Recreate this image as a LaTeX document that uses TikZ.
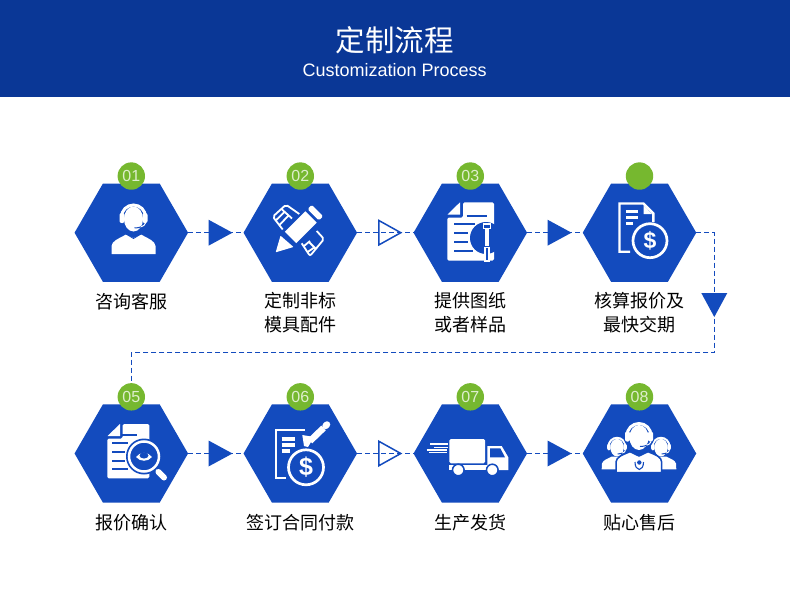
\documentclass[tikz,border=0pt]{standalone}
\usepackage{xcolor}
\usepackage{fontspec}
\usepackage{tikz}
\usetikzlibrary{arrows.meta,shapes.geometric,positioning,calc}
\setmainfont{Liberation Sans}
\newfontfamily\cjk{Noto Sans CJK SC}
\definecolor{headBlue}{RGB}{10,  55, 150}
\definecolor{hexBlue} {RGB}{19,  75, 190}
\definecolor{dotGreen}{RGB}{118,184,  47}
\definecolor{numPale} {RGB}{222,238, 205}
\tikzset{
  hexbox/.style={regular polygon,regular polygon sides=6,fill=hexBlue,
        minimum size=113.5pt,inner sep=0pt,outer sep=0pt},
  numdot/.style={circle,fill=dotGreen,text=numPale,minimum size=27.4pt,inner sep=0pt,
        font=\fontsize{16}{16}\selectfont},
  steptext/.style={align=center,inner sep=0pt,execute at begin node=\strut,
        font=\cjk\fontsize{18}{24}\selectfont},
  dashline/.style={hexBlue,line width=0.9pt,dash pattern=on 5pt off 3pt},
  tribox/.style={isosceles triangle,isosceles triangle stretches,anchor=lower side,
        minimum width=26pt,minimum height=24pt,inner sep=0pt,outer sep=0pt},
  trisolid/.style={tribox,fill=hexBlue},
  triopen/.style={tribox,draw=hexBlue,line width=1.5pt,minimum width=24.5pt,minimum height=22pt},
  dollar/.style={text=white,inner sep=0pt,font=\bfseries\fontsize{23}{23}\selectfont},
  wf/.style={fill=white},
  wl/.style={draw=white,line width=#1},
  bl/.style={draw=hexBlue,line width=#1},
  pics/headset/.style={code={
    \draw[wl=#1] (-12,1) arc[start angle=180,end angle=360,radius=12];
    \fill[wf,rounded corners=2pt] (-14,-3) rectangle (-9,7);
    \fill[wf,rounded corners=2pt] (9,-3) rectangle (14,7);
    \fill[wf] (0,3) ellipse [x radius=9.5,y radius=12.5];
    \draw[wl=1pt] (12,7) .. controls (11.5,9) and (10,10) .. (7.5,10.8);
    \draw[bl=1pt] (7.5,10.8) .. controls (6,11.5) and (4,12) .. (1,12);
  }},
}
\begin{document}
\begin{tikzpicture}[x=1pt,y=-1pt]
  \fill[white] (0,0) rectangle (790,591);
  \useasboundingbox (0,0) rectangle (790,591);

  % ── header ───────────────────────────────────────────
  \fill[headBlue] (0,0) rectangle (790,97);
  \node[text=white,font=\cjk\fontsize{29.5}{30}\selectfont] (title) at (394.7,40){定制流程};
  \node[text=white,font=\fontsize{18}{18}\selectfont] (subtitle) at (394.7,70){Customization Process};

  % ── steps ────────────────────────────────────────────
  \foreach \i/\x/\y/\num/\txt in {
      1/131.3/232.7/01/{咨询客服},
      2/300.3/232.7/02/{定制非标\\模具配件},
      3/470.3/232.7/03/{提供图纸\\或者样品},
      4/639.5/232.7/{}/{核算报价及\\最快交期},
      5/131.3/453.5/05/{报价确认},
      6/300.3/453.5/06/{签订合同付款},
      7/470.3/453.5/07/{生产发货},
      8/639.5/453.5/08/{贴心售后}}{
    \node[hexbox] (hex\i) at (\x,\y){};
    \node[numdot,above=-6.4pt of hex\i.north] (dot\i){\num};
    \node[steptext,below=10pt of hex\i.south] (txt\i){\txt};
  }

  % ── connectors ───────────────────────────────────────
  \coordinate (turn) at (714.3,352.7);
  \foreach \a/\b in {1/2,2/3,3/4,5/6,6/7,7/8}{\draw[dashline](hex\a.east)--(hex\b.west);}
  \draw[dashline] (hex4.east) -| (turn) -| (dot5.north);

  \node[trisolid] (tri1) at (208.5,232.7){};
  \node[triopen]  (tri2) at (378.8,232.7){};
  \node[trisolid] (tri3) at (547.5,232.7){};
  \node[trisolid,shape border rotate=-90] (tri4) at (714.3,293){};
  \node[trisolid] (tri5) at (208.5,453.5){};
  \node[triopen]  (tri6) at (378.8,453.5){};
  \node[trisolid] (tri7) at (547.5,453.5){};

  % ── 01 headset ───────────────────────────────────────
  \fill[wf] (111.5,254) -- (111.5,246) .. controls (112,241) and (118,239) .. (126,234.5)
     -- (133.5,238) -- (141,234.5) .. controls (149,239) and (155,241) .. (155.5,246)
     -- (155.5,254) -- cycle;
  \pic at (133.5,216) {headset=3pt};
  \draw[bl=0.8pt] (126,234) -- (133.5,238.5) -- (141,234);

  % ── 02 pencil and ruler ──────────────────────────────
  \fill[wf,rounded corners=0.5pt] (275.7,252.3) -- (280.5,235.7) -- (293.5,247) -- cycle;
  \fill[wf] (284.8,231.8) -- (305.3,211.3) -- (316.7,222.7) -- (296.2,243.2) -- cycle;
  \fill[wf,rounded corners=1.5pt] (307.5,209.1) -- (311.7,204.9) -- (323.1,216.3) -- (318.9,220.5) -- cycle;
  \draw[wl=1.8pt,rounded corners=2pt] (282.7,229.5) -- (272.8,216.7) -- (286,204.7) -- (299.3,214);
  \draw[wl=1.8pt] (282,209.5) -- (292,218.5)
     (275.7,220.5) -- (284.5,212) (279.5,225) -- (288.5,215.5);
  \draw[wl=1.8pt,rounded corners=2pt] (301.7,243.3) -- (310,256) -- (324,239) -- (316.7,231);
  \draw[wl=1.8pt] (309,242) -- (316,249)
     (303.7,246.3) -- (310,241) (307.5,252) -- (315,247);

  % ── 03 document and pin ──────────────────────────────
  \fill[wf] (447.5,214.5) -- (460,202.3) -- (460,214.5) -- cycle;
  \fill[wf,rounded corners=1.5pt] (463,202.3) -- (494,202.3) -- (494,260.7) -- (447.3,260.7)
     -- (447.3,217.5) -- (463,217.5) -- cycle;
  \foreach \ya/\xa/\xb in {215.5/466.7/487.3,224/454/475,232.7/454/468,242.3/454/468,251/454/472.7}{
    \draw[bl=2pt] (\xa,\ya) -- (\xb,\ya);
  }
  \fill[hexBlue] (486,238) circle (16);
  \draw[wl=1.2pt] (483.7,224) rectangle (490.3,228.5);
  \fill[wf] (485,228.5) rectangle (489,246);
  \draw[wl=1.2pt,fill=hexBlue] (485,247.5) rectangle (489,261);

  % ── 04 bill and coin ─────────────────────────────────
  \draw[wl=2.4pt] (630,251.7) -- (619.5,251.7) -- (619.5,203.5) -- (643.5,203.5) -- (653.3,213.3) -- (653.3,222);
  \fill[wf] (643.5,205) -- (652,214) -- (643.5,214) -- cycle;
  \foreach \ya/\xb in {211.7/638,217.3/638,223.3/633}{\draw[wl=3pt] (626,\ya) -- (\xb,\ya);}
  \draw[wl=2.7pt,fill=hexBlue] (650,240.7) circle (17);
  \node[dollar] (coin4) at (650,240.7){\$};

  % ── 05 document and lens ─────────────────────────────
  \fill[wf] (107.5,436) -- (120,424) -- (120,436) -- cycle;
  \fill[wf,rounded corners=1.5pt] (122.5,424) -- (149.3,424) -- (149.3,478.3) -- (107.3,478.3)
     -- (107.3,438.5) -- (122.5,438.5) -- cycle;
  \foreach \ya/\xa/\xb in {435/122/137,443.3/112/128.3,451.7/112/125,460.7/112/125,469.3/112/128.3}{
    \draw[bl=2pt] (\xa,\ya) -- (\xb,\ya);
  }
  \draw[wl=1.5pt] (155,468.5) -- (158,471.5);
  \draw[wl=6pt,line cap=round] (158.5,472) -- (164,477.5);
  \fill[hexBlue] (144,456.5) circle (18);
  \draw[wl=2.5pt] (144,456.5) circle (15);
  \fill[wf] (136,457) .. controls (140,451.5) and (148,451.5) .. (152,457)
     .. controls (148,462) and (140,462) .. (136,457) -- cycle;
  \fill[hexBlue] (144,455.5) ellipse [x radius=4.5,y radius=3];

  % ── 06 form and pencil ───────────────────────────────
  \draw[wl=2.2pt] (286,477.7) -- (276,477.7) -- (276,430) -- (305,430);
  \foreach \ya/\xb in {439/295,445/295,451/290}{\draw[wl=3.4pt] (281.7,\ya) -- (\xb,\ya);}
  \fill[wf] (302.3,435) -- (314,437) -- (308,447) -- (304,446) -- cycle;
  \draw[wl=6.5pt] (310,441) -- (323.5,428);
  \draw[wl=6.5pt,line cap=round] (325.5,426) -- (327,424.5);
  \draw[wl=2.7pt,fill=hexBlue] (306,467.3) circle (17.5);
  \node[dollar,font=\bfseries\fontsize{25}{25}\selectfont] (coin6) at (306,467.3){\$};

  % ── 07 truck ─────────────────────────────────────────
  \foreach \ya/\xa/\xb in {444/430/448,447.3/434/448,450/426.7/447,452.7/429/447}{
    \draw[wl=1.1pt] (\xa,\ya) -- (\xb,\ya);
  }
  \fill[wf,rounded corners=1.5pt] (449.3,439) rectangle (485,463.3);
  \fill[wf] (487.3,446) -- (501.7,446) -- (508.3,457.3) -- (508.3,470) -- (487.3,470) -- cycle;
  \fill[wf] (449.3,465) rectangle (508.3,470);
  \fill[hexBlue] (490,448.3) -- (500.3,448.3) -- (505,457.3) -- (490,457.3) -- cycle;
  \draw[bl=1.5pt,fill=white] (458.3,470) circle (5.8);
  \draw[bl=1.5pt,fill=white] (492.3,470) circle (5.8);

  % ── 08 service team ──────────────────────────────────
  \fill[wf] (601.7,469.3) -- (602,463.5) .. controls (603,460) and (608,458.5) .. (612,456.5)
     -- (630,456.5) -- (630,469.3) -- cycle;
  \fill[wf] (676.3,469.3) -- (676,463.5) .. controls (675,460) and (670,458.5) .. (666,456.5)
     -- (648,456.5) -- (648,469.3) -- cycle;
  \pic[scale=0.7] at (617,445.5) {headset=2pt};
  \pic[scale=0.7] at (661,445.5) {headset=2pt};
  \fill[hexBlue] (639,434.5) circle (16);
  \draw[bl=1.5pt,fill=white] (616,472.7) -- (616,462) .. controls (616.5,457) and (622,455) .. (630,451.7)
     -- (639,456) -- (648,451.7) .. controls (656,455) and (661.5,457) .. (661.7,462)
     -- (661.7,472.7) -- cycle;
  \pic at (639,434.5) {headset=3pt};
  \draw[bl=1.1pt] (635,462) .. controls (635,467) and (637,469) .. (639.3,469.5)
     .. controls (641.5,469) and (643.5,467) .. (643.5,462);
  \fill[hexBlue] (639.3,462.5) circle (2.2);
\end{tikzpicture}
\end{document}
